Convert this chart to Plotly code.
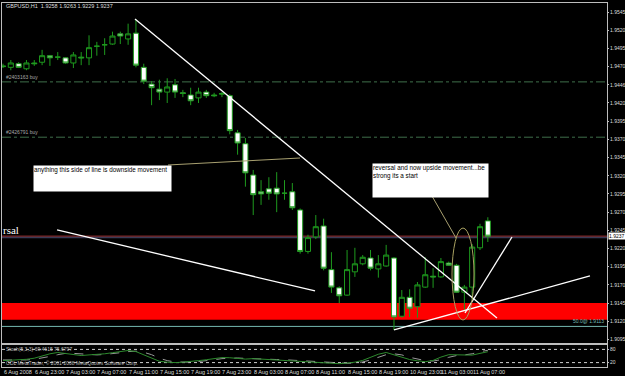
import plotly.graph_objects as go

# ---------------- data ----------------
bars = list(range(63))
opens = [1.9471,1.9469,1.9474,1.9467,1.9475,1.9476,1.9485,1.9483,1.9482,1.9475,
         1.9483,1.9482,1.9498,1.9500,1.9501,1.9515,1.9508,1.9516,1.9469,1.9446,
         1.9439,1.9435,1.9445,1.9434,1.9431,1.9427,1.9435,1.9431,1.9432,1.9430,
         1.9379,1.9364,1.9321,1.9298,1.9302,1.9303,1.9296,1.9298,1.9273,1.9216,
         1.9236,1.9251,1.9191,1.9166,1.9156,1.9188,1.9199,1.9207,1.9192,1.9196,
         1.9207,1.9127,1.9153,1.9140,1.9167,1.9182,1.9181,1.9200,1.9197,1.9160,
         1.9167,1.9221,1.9258]
highs = [1.9474,1.9479,1.9476,1.9479,1.9479,1.9493,1.9486,1.9490,1.9483,1.9490,
         1.9490,1.9513,1.9504,1.9509,1.9518,1.9518,1.9529,1.9535,1.9474,1.9450,
         1.9452,1.9454,1.9453,1.9438,1.9441,1.9441,1.9438,1.9434,1.9435,1.9432,
         1.9383,1.9372,1.9328,1.9314,1.9318,1.9325,1.9314,1.9310,1.9275,1.9239,
         1.9266,1.9261,1.9215,1.9168,1.9218,1.9221,1.9211,1.9218,1.9211,1.9225,
         1.9208,1.9163,1.9164,1.9174,1.9208,1.9193,1.9207,1.9202,1.9199,1.9170,
         1.9226,1.9254,1.9263]
lows = [1.9468,1.9465,1.9468,1.9465,1.9471,1.9472,1.9471,1.9479,1.9474,1.9468,
        1.9472,1.9472,1.9485,1.9486,1.9500,1.9501,1.9500,1.9469,1.9446,1.9417,
        1.9424,1.9420,1.9427,1.9428,1.9417,1.9420,1.9427,1.9428,1.9428,1.9377,
        1.9349,1.9305,1.9266,1.9280,1.9287,1.9270,1.9287,1.9273,1.9213,1.9213,
        1.9233,1.9190,1.9159,1.9145,1.9155,1.9181,1.9197,1.9190,1.9180,1.9195,
        1.9108,1.9125,1.9126,1.9125,1.9166,1.9166,1.9180,1.9196,1.9159,1.9136,
        1.9150,1.9218,1.9229]
closes = [1.9470,1.9475,1.9469,1.9475,1.9474,1.9485,1.9482,1.9483,1.9475,1.9486,
          1.9482,1.9496,1.9498,1.9500,1.9512,1.9512,1.9515,1.9472,1.9450,1.9441,
          1.9435,1.9442,1.9435,1.9433,1.9423,1.9435,1.9430,1.9430,1.9433,1.9382,
          1.9365,1.9324,1.9294,1.9295,1.9296,1.9295,1.9296,1.9276,1.9216,1.9235,
          1.9250,1.9193,1.9167,1.9155,1.9191,1.9199,1.9208,1.9193,1.9199,1.9211,
          1.9126,1.9153,1.9138,1.9170,1.9184,1.9181,1.9202,1.9197,1.9160,1.9167,
          1.9222,1.9250,1.9237]

stoch_main = [29,30,32,35,40,50,60,66,62,56,52,55,57,60,65,70,75,70,55,38,
              26,22,20,22,24,29,33,38,43,42,38,36,38,36,34,33,31,29,28,25,
              22,20,17,15,18,22,30,45,58,66,55,42,34,28,24,30,45,56,55,52,
              54,62,69.46]
stoch_signal = [32,31,31,32,35,40,48,56,62,62,59,55,55,57,60,65,70,72,67,56,
                40,29,23,21,22,25,28,33,38,41,41,39,37,37,36,34,33,31,29,27,
                25,22,19,17,17,18,23,32,44,56,60,55,44,35,29,27,33,44,52,55,
                60,70,75.68]

time_ticks = [0,4,8,12,16,20,24,28,32,36,40,44,48,52,56,60]
time_labels = ["6 Aug 2008","6 Aug 23:00","7 Aug 03:00","7 Aug 07:00","7 Aug 11:00",
               "7 Aug 15:00","7 Aug 19:00","7 Aug 23:00","8 Aug 03:00","8 Aug 07:00",
               "8 Aug 11:00","8 Aug 15:00","8 Aug 19:00","10 Aug 23:00","11 Aug 03:00",
               "11 Aug 07:00"]

price_ticks = [1.9545,1.9520,1.9495,1.9470,1.9445,1.9420,1.9395,1.9370,1.9345,1.9320,
               1.9295,1.9270,1.9245,1.9220,1.9195,1.9170,1.9145,1.9120,1.9095]
price_labels = ["1.9545","1.9520","1.9495","1.9470","1.9446","1.9420","1.9395","1.9370",
                "1.9345","1.9320","1.9295","1.9270","1.9245","1.9220","1.9195","1.9170",
                "1.9145","1.9120","1.9095"]

buy_levels = [1.9449, 1.9373]
buy_names = ["#2403163 buy", "#2426791 buy"]
zone_low, zone_high = 1.9122, 1.9145
fibo_level = 1.9113
bid = 1.9237

# hand-drawn objects: (bar, price) end points
white_trendlines = [((16.88, 1.95354), (63.17, 1.91246)),
                    ((6.91, 1.92455), (39.90, 1.91617)),
                    ((50.0, 1.91081), (75.06, 1.91823)),
                    ((59.08, 1.91314), (65.09, 1.92359))]
olive_lines = [((21.10, 1.93348), (37.98, 1.93444)),
               ((54.86, 1.92922), (57.93, 1.92345))]
ellipse = ((57.42, 1.91218), (60.23, 1.92482))

# ---------------- figure ----------------
W, H = 625, 376
GREEN = "#1e9a1e"
BORDER = "#bdbdbd"

fig = go.Figure()
fig.add_trace(go.Candlestick(
    x=bars, open=opens, high=highs, low=lows, close=closes,
    increasing=dict(line=dict(color=GREEN, width=1), fillcolor="black"),
    decreasing=dict(line=dict(color=GREEN, width=1), fillcolor="white"),
    whiskerwidth=0, showlegend=False, hoverinfo="skip",
    xaxis="x", yaxis="y"))
fig.add_trace(go.Scatter(x=bars, y=stoch_signal, mode="lines",
                         line=dict(color="#9a9a9a", width=1, dash="dash"),
                         xaxis="x2", yaxis="y2", showlegend=False, hoverinfo="skip"))
fig.add_trace(go.Scatter(x=bars, y=stoch_main, mode="lines",
                         line=dict(color="#2e8b2e", width=1),
                         xaxis="x2", yaxis="y2", showlegend=False, hoverinfo="skip"))

xr = [-0.128, 77.24]
shapes = []
# support zone
shapes.append(dict(type="rect", xref="x", yref="y", x0=xr[0], x1=xr[1], y0=zone_low, y1=zone_high,
                   fillcolor="#ff0000", line=dict(width=0), layer="below"))
# buy order lines
for lv in buy_levels:
    shapes.append(dict(type="line", xref="x", yref="y", x0=xr[0], x1=xr[1], y0=lv, y1=lv,
                       line=dict(color="#3f6f4a", width=1, dash="dashdot"), layer="below"))
# fibo 50 line
shapes.append(dict(type="line", xref="x", yref="y", x0=xr[0], x1=xr[1], y0=fibo_level, y1=fibo_level,
                   line=dict(color="#74b8b0", width=1), layer="below"))
# bid / ask lines
shapes.append(dict(type="line", xref="x", yref="y", x0=xr[0], x1=xr[1], y0=bid, y1=bid,
                   line=dict(color="#b03535", width=1), layer="below"))
shapes.append(dict(type="line", xref="x", yref="y", x0=xr[0], x1=xr[1], y0=bid - 0.0002, y1=bid - 0.0002,
                   line=dict(color="#3a3a55", width=1.5), layer="below"))
for (a, b) in white_trendlines:
    shapes.append(dict(type="line", xref="x", yref="y", x0=a[0], y0=a[1], x1=b[0], y1=b[1],
                       line=dict(color="white", width=1.3)))
for (a, b) in olive_lines:
    shapes.append(dict(type="line", xref="x", yref="y", x0=a[0], y0=a[1], x1=b[0], y1=b[1],
                       line=dict(color="#a8a070", width=1)))
shapes.append(dict(type="circle", xref="x", yref="y", x0=ellipse[0][0], y0=ellipse[0][1],
                   x1=ellipse[1][0], y1=ellipse[1][1], line=dict(color="#a8a060", width=1)))
# stoch levels
for lv in (80, 20):
    shapes.append(dict(type="line", xref="x2", yref="y2", x0=xr[0], x1=xr[1], y0=lv, y1=lv,
                       line=dict(color="#cfcfcf", width=1, dash="dot"), layer="below"))

FONT = "Liberation Sans"
ann = []
ann.append(dict(xref="paper", yref="paper", x=4 / W, y=1 - 6 / H, xanchor="left", yanchor="middle",
                text="GBPUSD,H1  1.9258 1.9263 1.9229 1.9237", showarrow=False,
                font=dict(family=FONT, size=5.5, color="#dddddd")))
for lv, nm in zip(buy_levels, buy_names):
    ann.append(dict(xref="paper", yref="y", x=4 / W, y=lv, xanchor="left", yanchor="bottom",
                    text=nm, showarrow=False, font=dict(family=FONT, size=5, color="#a8a8a8")))
ann.append(dict(xref="x", yref="y", x=3.84, y=1.93348, xanchor="left", yanchor="top",
                width=137, height=25, align="left", valign="top", bgcolor="white", borderpad=0,
                text="anything this side of line is downside movement", showarrow=False,
                font=dict(family=FONT, size=6.3, color="black")))
ann.append(dict(xref="x", yref="y", x=47.19, y=1.93375, xanchor="left", yanchor="top",
                width=115, height=33, align="left", valign="top", bgcolor="white", borderpad=0,
                text="reversal and now upside movement...be<br>strong its a start", showarrow=False,
                font=dict(family=FONT, size=6.3, color="black")))
ann.append(dict(xref="paper", yref="y", x=1 / W, y=1.9246, xanchor="left", yanchor="middle",
                text="rsal", showarrow=False, font=dict(family="Liberation Serif", size=11, color="white")))
ann.append(dict(xref="paper", yref="y", x=606 / W, y=fibo_level, xanchor="right", yanchor="bottom",
                text="50.0@ 1.9113", showarrow=False, font=dict(family=FONT, size=5, color="#74b8b0")))
ann.append(dict(xref="paper", yref="y", x=608 / W, y=bid, xanchor="left", yanchor="middle",
                text="1.9237", showarrow=False, bgcolor="white", borderpad=0,
                font=dict(family=FONT, size=5, color="black")))
ann.append(dict(xref="paper", yref="paper", x=4 / W, y=1 - 349 / H, xanchor="left", yanchor="middle",
                text="Stoch(5,3,3) 69.4615 75.6797", showarrow=False,
                font=dict(family=FONT, size=5, color="#bbbbbb")))
ann.append(dict(xref="paper", yref="paper", x=4 / W, y=1 - 363 / H, xanchor="left", yanchor="middle",
                text="ODL MetaTrader, © 2001-2008 MetaQuotes Software Corp.", showarrow=False,
                font=dict(family=FONT, size=5, color="#bbbbbb")))
for t, lab in zip(time_ticks, time_labels):
    ann.append(dict(xref="x2", yref="paper", x=t, xshift=-1.5, y=1 - 371.5 / H, xanchor="left",
                    yanchor="middle", text=lab, showarrow=False,
                    font=dict(family=FONT, size=5.5, color="#dddddd")))

fig.update_layout(
    width=W, height=H, margin=dict(l=0, r=0, t=0, b=0),
    paper_bgcolor="black", plot_bgcolor="black",
    boxgap=0.35, boxgroupgap=0,
    showlegend=False, shapes=shapes, annotations=ann,
    xaxis=dict(domain=[2 / W, 607 / W], range=xr, showgrid=False, zeroline=False,
               showticklabels=False, ticks="", showline=True, mirror=True, linecolor=BORDER,
               linewidth=1, rangeslider=dict(visible=False), anchor="y"),
    yaxis=dict(domain=[(H - 343) / H, (H - 3) / H], range=[1.90902, 1.95574], side="right",
               showgrid=False, zeroline=False, showline=True, mirror=True, linecolor=BORDER,
               linewidth=1, tickvals=price_ticks, ticktext=price_labels, ticks="outside",
               ticklen=1, tickcolor=BORDER, automargin=False,
               tickfont=dict(family=FONT, size=5, color="#dddddd"), anchor="x"),
    xaxis2=dict(domain=[2 / W, 607 / W], range=xr, showgrid=False, zeroline=False,
                showticklabels=False, ticks="", showline=True, mirror=True, linecolor=BORDER,
                linewidth=1, anchor="y2"),
    yaxis2=dict(domain=[(H - 367) / H, (H - 345) / H], range=[0, 100], side="right",
                showgrid=False, zeroline=False, showline=True, mirror=True, linecolor=BORDER,
                linewidth=1, tickvals=[80, 20], ticktext=["80", "20"], ticks="outside",
                ticklen=1, tickcolor=BORDER, automargin=False,
                tickfont=dict(family=FONT, size=5, color="#dddddd"), anchor="x2"),
)

fig.write_html("out.html")
